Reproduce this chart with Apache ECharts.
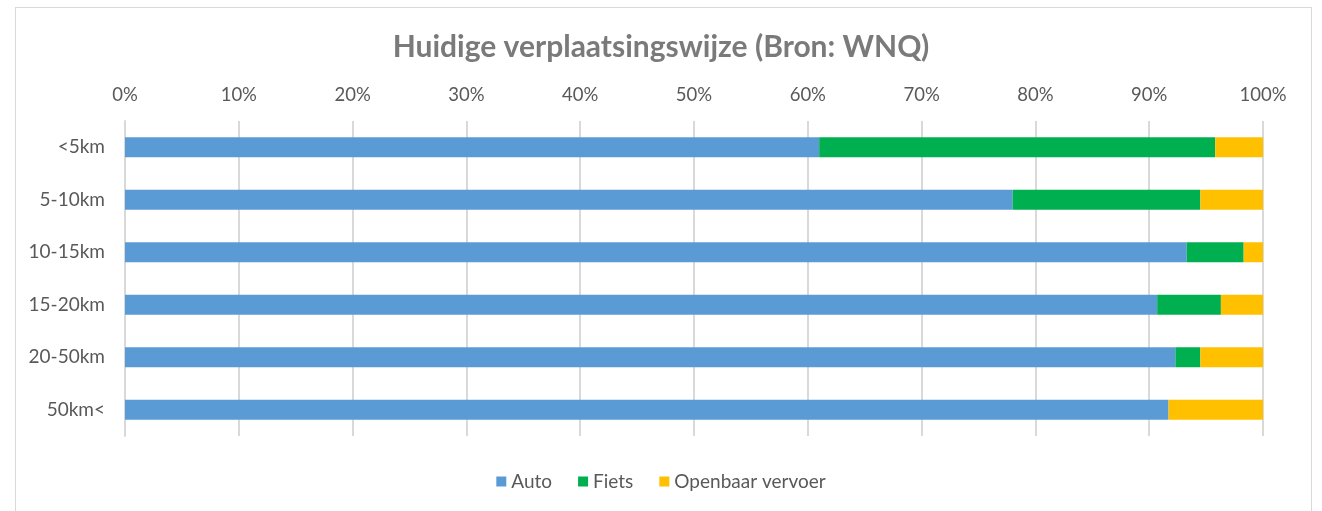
<!DOCTYPE html>
<html lang="nl">
<head>
    <meta charset="UTF-8">
    <title>Huidige verplaatsingswijze</title>
    <script src="https://cdn.jsdelivr.net/npm/echarts@6.0.0/dist/echarts.min.js"></script>
    <style>
        html, body { margin: 0; padding: 0; background: #fff; }
        #frame { position: absolute; left: 15px; top: 7px; width: 1297px; height: 520px; border: 1px solid #d9d9d9; box-sizing: border-box; }
        #chart { position: absolute; left: 0; top: 0; width: 1322px; height: 511px; }
    </style>
</head>
<body>
<div id="frame"></div>
<div id="chart"></div>
<script>
    var categories = ['<5km', '5-10km', '10-15km', '15-20km', '20-50km', '50km<'];
    var auto = [61.0, 78.0, 93.3, 90.7, 92.3, 91.7];
    var fiets = [34.8, 16.5, 5.0, 5.6, 2.2, 0];
    var ov = [4.2, 5.5, 1.7, 3.7, 5.5, 8.3];
    var ticks = ['0%', '10%', '20%', '30%', '40%', '50%', '60%', '70%', '80%', '90%', '100%'];

    // Lato is the closest installed face to Calibri
    var font = 'Lato, "Open Sans", sans-serif';

    echarts.init(document.getElementById('chart')).setOption({
        animation: false,
        title: {
            text: 'Huidige verplaatsingswijze (Bron: WNQ)',
            left: 'center',
            top: 27,
            textStyle: { fontFamily: font, fontSize: 30, fontWeight: 'bold', color: '#7a7a7a' }
        },
        legend: {
            bottom: 15,
            left: 'center',
            itemWidth: 10,
            itemHeight: 10,
            itemGap: 26,
            icon: 'rect',
            textStyle: { fontFamily: font, fontSize: 19, color: '#595959' },
            data: ['Auto', 'Fiets', 'Openbaar vervoer']
        },
        grid: { left: 125, right: 1322 - 1263, top: 121, bottom: 511 - 436 },
        xAxis: {
            type: 'value',
            position: 'top',
            min: 0,
            max: 100,
            interval: 10,
            axisLine: { show: false },
            axisTick: { show: false },
            splitLine: { lineStyle: { color: '#d9d9d9', width: 2 } },
            axisLabel: {
                margin: 16,
                fontFamily: font, fontSize: 18.5, color: '#595959',
                formatter: function (v) { return ticks[Math.round(v / 10)]; }
            }
        },
        yAxis: {
            type: 'category',
            inverse: true,
            data: categories,
            axisLine: { show: true, lineStyle: { color: '#d9d9d9', width: 2 } },
            axisTick: { show: false },
            axisLabel: { margin: 20, fontFamily: font, fontSize: 19, color: '#595959' }
        },
        series: [
            { name: 'Auto', type: 'bar', stack: 'total', barWidth: 20, data: auto, itemStyle: { color: '#5B9BD5' } },
            { name: 'Fiets', type: 'bar', stack: 'total', barWidth: 20, data: fiets, itemStyle: { color: '#00B050' } },
            { name: 'Openbaar vervoer', type: 'bar', stack: 'total', barWidth: 20, data: ov, itemStyle: { color: '#FFC000' } }
        ]
    });
</script>
</body>
</html>
